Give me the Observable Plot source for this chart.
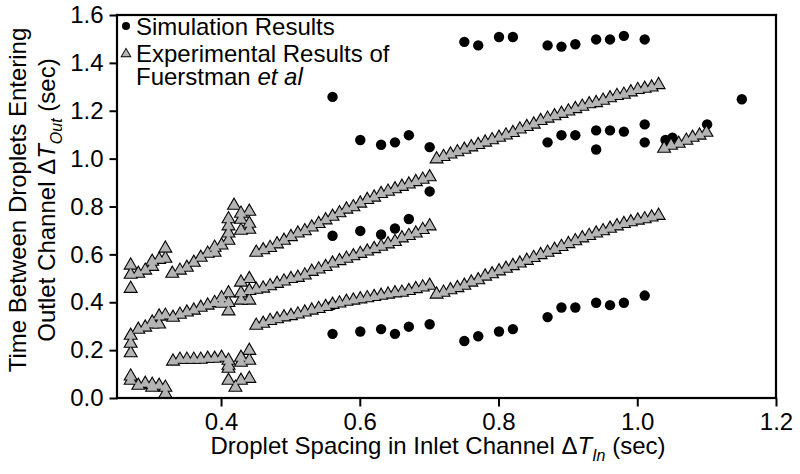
<!DOCTYPE html>
<html><head><meta charset="utf-8">
<script src="https://cdn.jsdelivr.net/npm/d3@7"></script>
<script src="https://cdn.jsdelivr.net/npm/@observablehq/plot@0.6"></script>
<style>body{margin:0;background:#fff} svg{display:block}</style>
</head><body><div id="chart"></div>
<script>
// Simulation results (black dots)
const simX = [0.56,0.56,0.56,0.56, 0.60,0.60,0.60, 0.63,0.63,0.63, 0.65,0.65,0.65, 0.67,0.67,0.67, 0.70,0.70,0.70,
  0.75,0.75, 0.77,0.77, 0.80,0.80, 0.82,0.82, 0.87,0.87,0.87, 0.89,0.89,0.89, 0.91,0.91,0.91,
  0.94,0.94,0.94,0.94, 0.96,0.96,0.96, 0.98,0.98,0.98, 1.01,1.01,1.01,1.01, 1.04, 1.05, 1.10, 1.15];
const simY = [1.26,0.68,0.39,0.27, 1.08,0.70,0.28, 1.06,0.685,0.29, 1.07,0.71,0.27, 1.10,0.75,0.30, 1.05,0.865,0.31,
  1.49,0.24, 1.475,0.26, 1.51,0.28, 1.51,0.29, 1.475,1.07,0.34, 1.47,1.10,0.38, 1.48,1.10,0.38,
  1.50,1.12,1.04,0.40, 1.50,1.12,0.39, 1.515,1.115,0.40, 1.50,1.145,1.07,0.43, 1.08, 1.09, 1.145, 1.25];

// Experimental results of Fuerstman et al (grey triangles)
const expX = [
  // left cluster, upper band
  0.269,0.269,0.269,0.28,0.29,0.30,0.30,0.31,0.319,0.319,0.329,0.34,0.35,0.36,0.37,0.38,0.39,0.39,0.40,
  0.41,0.41,0.41,0.41,0.418,0.428,0.428,0.428,0.44,0.44,0.44,
  // left cluster, middle band
  0.269,0.269,0.269,0.28,0.29,0.30,0.30,0.31,0.31,0.319,0.33,0.34,0.35,0.36,0.37,0.38,0.39,0.40,0.40,
  0.41,0.41,0.41,0.428,0.428,0.428,0.44,0.44,0.44,
  // left cluster, lower band
  0.269,0.269,0.28,0.29,0.30,0.30,0.31,0.319,0.319,0.33,0.34,0.35,0.36,0.37,0.38,0.39,0.40,
  0.41,0.41,0.41,0.41,0.42,0.428,0.428,0.428,0.44,0.44,0.44,
  // first segment, upper line
  0.45,0.46,0.47,0.48,0.49,0.50,0.51,0.52,0.53,0.54,0.55,0.56,0.57,0.58,0.59,0.60,0.61,0.62,0.63,0.64,0.65,0.66,0.67,0.68,0.69,0.70,
  // first segment, middle line
  0.45,0.46,0.47,0.48,0.49,0.50,0.51,0.52,0.53,0.54,0.55,0.56,0.57,0.58,0.59,0.60,0.61,0.62,0.63,0.64,0.65,0.66,0.67,0.68,0.69,0.70,
  // first segment, lower line
  0.45,0.46,0.47,0.48,0.49,0.50,0.51,0.52,0.53,0.54,0.55,0.56,0.57,0.58,0.59,0.60,0.61,0.62,0.63,0.64,0.65,0.66,0.67,0.68,0.69,0.70,
  // second segment, upper line
  0.71,0.72,0.73,0.74,0.75,0.76,0.77,0.78,0.79,0.80,0.81,0.82,0.83,0.84,0.85,0.86,0.87,0.88,0.89,0.90,0.91,0.92,0.93,0.94,0.95,0.96,0.97,0.98,0.99,1.00,1.01,1.02,1.03,
  // second segment, lower line
  0.71,0.72,0.73,0.74,0.75,0.76,0.77,0.78,0.79,0.80,0.81,0.82,0.83,0.84,0.85,0.86,0.87,0.88,0.89,0.90,0.91,0.92,0.93,0.94,0.95,0.96,0.97,0.98,0.99,1.00,1.01,1.02,1.03,
  // third segment
  1.038,1.048,1.059,1.07,1.079,1.089,1.099
];
const expY = [
  0.556,0.518,0.459,0.522,0.535,0.572,0.551,0.58,0.627,0.585,0.522,0.535,0.547,0.568,0.589,0.606,0.631,0.61,0.64,
  0.66,0.69,0.72,0.75,0.806,0.773,0.748,0.702,0.781,0.731,0.706,
  0.263,0.23,0.19,0.288,0.297,0.318,0.31,0.343,0.31,0.347,0.338,0.351,0.36,0.368,0.38,0.389,0.40,0.397,0.42,
  0.44,0.40,0.365,0.485,0.44,0.41,0.50,0.45,0.41,
  0.093,0.075,0.054,0.062,0.046,0.058,0.054,0.046,0.02,0.155,0.163,0.163,0.163,0.163,0.167,0.167,0.171,
  0.159,0.138,0.125,0.075,0.046,0.171,0.15,0.075,0.20,0.159,0.083,
  0.61,0.62,0.63,0.645,0.66,0.675,0.69,0.70,0.715,0.73,0.745,0.76,0.775,0.79,0.80,0.815,0.83,0.84,0.855,0.865,0.875,0.885,0.895,0.905,0.915,0.925,
  0.455,0.46,0.47,0.48,0.49,0.50,0.505,0.515,0.53,0.54,0.55,0.565,0.575,0.585,0.595,0.605,0.615,0.625,0.635,0.645,0.655,0.67,0.68,0.69,0.705,0.72,
  0.305,0.313,0.325,0.332,0.34,0.345,0.352,0.36,0.368,0.375,0.383,0.392,0.398,0.405,0.41,0.415,0.42,0.425,0.43,0.435,0.44,0.443,0.45,0.458,0.465,0.472,
  1.00,1.01,1.02,1.03,1.04,1.05,1.06,1.07,1.08,1.09,1.10,1.11,1.125,1.135,1.145,1.16,1.17,1.18,1.19,1.20,1.21,1.22,1.23,1.235,1.245,1.255,1.265,1.27,1.28,1.29,1.295,1.30,1.31,
  0.435,0.443,0.453,0.462,0.472,0.485,0.495,0.51,0.52,0.532,0.543,0.554,0.565,0.576,0.588,0.60,0.61,0.622,0.634,0.646,0.658,0.67,0.68,0.69,0.70,0.71,0.72,0.73,0.737,0.744,0.75,0.757,0.764,
  1.044,1.057,1.065,1.078,1.09,1.099,1.111
];

const xTicks = [0.4, 0.6, 0.8, 1.0, 1.2];
const yTicks = [0.0, 0.2, 0.4, 0.6, 0.8, 1.0, 1.2, 1.4, 1.6];
const xDomain = [0.25, 1.2];
const yDomain = [0, 1.6];
const legendLabels = ["Simulation Results", "Experimental Results of", "Fuerstman "];

const sim = simX.map((x, i) => ({x, y: simY[i]}));
// each triangle = black outline shape followed by grey body, in data order
const expLayers = expX.flatMap((x, i) => [
  {x, y: expY[i], r: 5.5, c: "black"},
  {x, y: expY[i], r: 4.1, c: "#b4b4b4"}
]);
// frame edges (domain values), drawn as thin filled rects
const frameEdges = [
  {x1: xDomain[0], x2: xDomain[1], y1: yDomain[0], y2: yDomain[0]},
  {x1: xDomain[0], x2: xDomain[1], y1: yDomain[1], y2: yDomain[1]},
  {x1: xDomain[0], x2: xDomain[0], y1: yDomain[0], y2: yDomain[1]},
  {x1: xDomain[1], x2: xDomain[1], y1: yDomain[0], y2: yDomain[1]}
];
const FONT = "'Liberation Sans', Arial, Helvetica, sans-serif";

// tick-mark symbols as small filled bars
const tickDown = {draw(ctx) { ctx.rect(-1, 0, 2, 8); }};
const tickLeft = {draw(ctx) { ctx.rect(-8, -1, 8, 2); }};

const chart = Plot.plot({
  width: 800, height: 474,
  marginLeft: 117, marginRight: 24, marginTop: 15, marginBottom: 76,
  style: {fontFamily: FONT, fontSize: "24px", color: "black", background: "white"},
  x: {domain: xDomain},
  y: {domain: yDomain},
  r: {type: "identity"},
  color: {type: "identity"},
  marks: [
    Plot.axisX({ticks: xTicks, tickSize: 0, tickPadding: 14, tickFormat: d3.format(".1f"), label: null, fontSize: 24}),
    Plot.axisY({ticks: yTicks, tickSize: 0, tickPadding: 14, tickFormat: d3.format(".1f"), label: null, fontSize: 24}),
    Plot.dot(xTicks, {x: d => d, y: () => yDomain[0], symbol: tickDown, r: 3, fill: "black"}),
    Plot.dot(yTicks, {x: () => xDomain[0], y: d => d, symbol: tickLeft, r: 3, fill: "black"}),
    Plot.dot(sim, {x: "x", y: "y", r: 5.2, fill: "black"}),
    Plot.dot(expLayers, {x: "x", y: "y", r: "r", fill: "c", symbol: "triangle"}),
    Plot.rect(frameEdges, {x1: "x1", x2: "x2", y1: "y1", y2: "y2", fill: "black", inset: -1.1})
  ]
});
document.getElementById("chart").appendChild(chart);

const svg = d3.select(chart);

// x axis title
const xt = svg.append("text").attr("x", 438).attr("y", 454).attr("text-anchor", "middle")
  .attr("font-family", FONT).attr("font-size", 24).attr("fill", "black");
xt.append("tspan").text("Droplet Spacing in Inlet Channel \u0394");
xt.append("tspan").attr("font-style", "italic").text("T");
xt.append("tspan").attr("font-style", "italic").attr("font-size", 16).attr("dy", 7).text("In");
xt.append("tspan").attr("dy", -7).text(" (sec)");

// y axis title
const yg = svg.append("g").attr("transform", "translate(26,200) rotate(-90)")
  .attr("font-family", FONT).attr("font-size", 24).attr("fill", "black").attr("text-anchor", "middle");
yg.append("text").attr("x", 0).attr("y", 0).text("Time Between Droplets Entering");
const y2 = yg.append("text").attr("x", 0).attr("y", 29);
y2.append("tspan").text("Outlet Channel \u0394");
y2.append("tspan").attr("font-style", "italic").text("T");
y2.append("tspan").attr("font-style", "italic").attr("font-size", 16).attr("dy", 7).text("Out");
y2.append("tspan").attr("dy", -7).text(" (sec)");

// legend
const lg = svg.append("g").attr("font-family", FONT).attr("font-size", 24).attr("fill", "black").attr("text-anchor", "start");
lg.append("circle").attr("cx", 126).attr("cy", 26).attr("r", 4).attr("fill", "black");
lg.append("text").attr("x", 136).attr("y", 35).text(legendLabels[0]);
lg.append("path").attr("d", d3.symbol(d3.symbolTriangle, 55)()).attr("transform", "translate(126,54)").attr("fill", "black");
lg.append("path").attr("d", d3.symbol(d3.symbolTriangle, 28)()).attr("transform", "translate(126,54)").attr("fill", "#b4b4b4");
lg.append("text").attr("x", 136).attr("y", 62).text(legendLabels[1]);
const l3 = lg.append("text").attr("x", 136).attr("y", 85);
l3.append("tspan").text(legendLabels[2]);
l3.append("tspan").attr("font-style", "italic").text("et al");
</script></body></html>
